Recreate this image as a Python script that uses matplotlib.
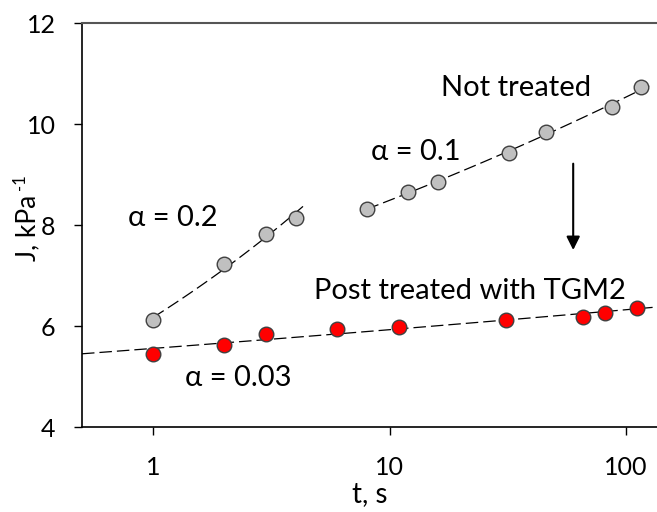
import numpy as np
import matplotlib
matplotlib.use("Agg")
import matplotlib.pyplot as plt

plt.rcParams['font.family'] = ['Lato', 'DejaVu Sans']

# not treated, short times
t_nt1 = [1, 2, 3, 4]
j_nt1 = [6.12, 7.23, 7.82, 8.14]
# not treated, long times
t_nt2 = [8, 12, 16, 32, 46, 87, 116]
j_nt2 = [8.32, 8.65, 8.86, 9.43, 9.84, 10.34, 10.73]
# post treated with TGM2
t_tg = [1, 2, 3, 6, 11, 31, 66, 81, 111]
j_tg = [5.44, 5.62, 5.85, 5.94, 5.99, 6.12, 6.17, 6.26, 6.35]

xticks = [1, 10, 100]
yticks = [4, 6, 8, 10, 12]


def powfit(t, j):
    p = np.polyfit(np.log10(t), np.log10(j), 1)
    return p


fig = plt.figure(figsize=(6.57, 5.12), dpi=100)
ax = fig.add_axes([0.1248, 0.166, 0.8752, 0.789])

dash = (0, (10, 4))
# fitted lines
for t, j, lo, hi in [(t_nt1, j_nt1, 1.0, 4.3), (t_nt2, j_nt2, 8.0, 125),
                     (t_tg, j_tg, 0.5, 135)]:
    p = powfit(t, j)
    tt = np.logspace(np.log10(lo), np.log10(hi), 100)
    ax.plot(tt, 10 ** np.polyval(p, np.log10(tt)), color='black', lw=0.9,
            ls=dash, zorder=2)

ax.plot(t_nt1, j_nt1, 'o', ms=10.5, mfc='#C0C0C0', mec='#404040', mew=1, zorder=3)
ax.plot(t_nt2, j_nt2, 'o', ms=10.5, mfc='#C0C0C0', mec='#404040', mew=1, zorder=3)
ax.plot(t_tg, j_tg, 'o', ms=10.5, mfc='#FF0000', mec='#404040', mew=1, zorder=3)

ax.set_xscale('log')
ax.set_xlim(0.5, 135)
ax.set_ylim(4, 12)
ax.set_xticks(xticks)
ax.set_xticklabels([str(v) for v in xticks])
ax.xaxis.set_minor_locator(matplotlib.ticker.NullLocator())
ax.set_yticks(yticks)
ax.tick_params(labelsize=18, direction='out', length=6, width=1, color='black')
ax.tick_params(axis='x', pad=15)
ax.tick_params(axis='y', pad=13)

ax.spines['right'].set_visible(False)
ax.spines['top'].set_color('#555555')
ax.spines['top'].set_linewidth(1.5)
ax.spines['left'].set_linewidth(1.2)
ax.spines['bottom'].set_linewidth(1.2)

ax.set_xlabel('t, s', fontsize=20, labelpad=1)
fig.text(0.042, 0.555, 'J, kPa', fontsize=19, rotation=90, ha='center',
         va='center')
fig.text(0.030, 0.645, '-1', fontsize=12, rotation=90, ha='center',
         va='center')

ax.text(34.3, 10.71, 'Not treated', fontsize=21, ha='center', va='center')
ax.text(12.9, 9.45, 'α = 0.1', fontsize=21, ha='center', va='center')
ax.text(1.215, 8.14, 'α = 0.2', fontsize=21, ha='center', va='center')
ax.text(2.29, 4.97, 'α = 0.03', fontsize=21, ha='center', va='center')
ax.text(21.9, 6.69, 'Post treated with TGM2', fontsize=21, ha='center',
        va='center')

ax.annotate('', xy=(59.7, 7.45), xytext=(59.7, 9.27),
            arrowprops=dict(arrowstyle='-|>', color='black', lw=1.5,
                            mutation_scale=20))

fig.savefig('out.png', dpi=100)
